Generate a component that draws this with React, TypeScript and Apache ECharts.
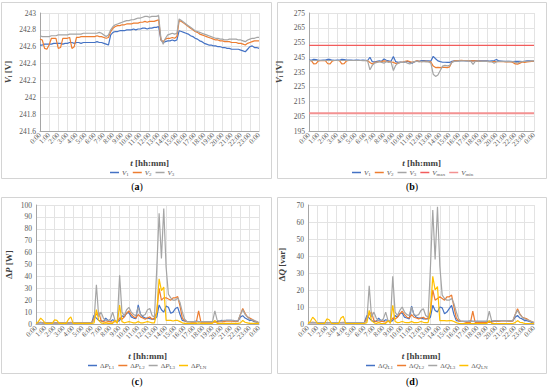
import React, { useEffect, useRef } from "react";
import * as echarts from "echarts";

// time step between samples, hours
const STEP_H = 0.25;
const HOURS = ["0", "1", "2", "3", "4", "5", "6", "7", "8", "9", "10", "11", "12",
  "13", "14", "15", "16", "17", "18", "19", "20", "21", "22", "23", "24"];
const X_TICK_LABELS = [
  "0:00", "1:00", "2:00", "3:00", "4:00", "5:00", "6:00", "7:00", "8:00", "9:00", "10:00", "11:00",
  "12:00", "13:00", "14:00", "15:00", "16:00", "17:00", "18:00", "19:00", "20:00", "21:00", "22:00", "23:00", "0:00",
];

// (a) voltages [V]
const A_V1 = [
  242.62, 242.62, 242.63, 242.63, 242.63, 242.63, 242.64, 242.64, 242.64, 242.64, 242.63, 242.64,
  242.64, 242.65, 242.65, 242.64, 242.65, 242.65, 242.64, 242.65, 242.65, 242.65, 242.65, 242.65,
  242.65, 242.66, 242.65, 242.65, 242.64, 242.63, 242.62, 242.74, 242.77, 242.78, 242.78, 242.79,
  242.79, 242.79, 242.80, 242.80, 242.80, 242.81, 242.80, 242.81, 242.81, 242.82, 242.82, 242.81,
  242.82, 242.82, 242.83, 242.83, 242.84, 242.68, 242.65, 242.66, 242.67, 242.67, 242.68, 242.67,
  242.68, 242.79, 242.78, 242.77, 242.76, 242.75, 242.73, 242.72, 242.70, 242.69, 242.67, 242.66,
  242.64, 242.63, 242.62, 242.62, 242.61, 242.61, 242.60, 242.60, 242.59, 242.59, 242.58, 242.58,
  242.57, 242.57, 242.57, 242.57, 242.56, 242.55, 242.54, 242.57, 242.60, 242.61, 242.59, 242.59,
  242.58,
];
const A_V2 = [
  242.69, 242.68, 242.58, 242.57, 242.62, 242.70, 242.70, 242.70, 242.58, 242.59, 242.70, 242.70,
  242.70, 242.71, 242.58, 242.60, 242.71, 242.71, 242.72, 242.72, 242.72, 242.72, 242.72, 242.72,
  242.72, 242.73, 242.72, 242.72, 242.71, 242.70, 242.71, 242.78, 242.82, 242.84, 242.85, 242.85,
  242.86, 242.86, 242.87, 242.87, 242.87, 242.88, 242.88, 242.88, 242.89, 242.89, 242.90, 242.89,
  242.90, 242.90, 242.90, 242.91, 242.92, 242.68, 242.66, 242.69, 242.70, 242.70, 242.71, 242.70,
  242.72, 242.91, 242.90, 242.88, 242.86, 242.84, 242.82, 242.80, 242.78, 242.77, 242.75, 242.74,
  242.73, 242.72, 242.71, 242.70, 242.69, 242.68, 242.68, 242.67, 242.67, 242.66, 242.66, 242.66,
  242.65, 242.65, 242.65, 242.64, 242.64, 242.63, 242.62, 242.64, 242.65, 242.66, 242.67, 242.67,
  242.67,
];
const A_V3 = [
  242.73, 242.72, 242.72, 242.72, 242.72, 242.73, 242.73, 242.73, 242.74, 242.74, 242.74, 242.74,
  242.74, 242.75, 242.75, 242.75, 242.75, 242.75, 242.75, 242.76, 242.76, 242.76, 242.76, 242.76,
  242.76, 242.76, 242.77, 242.76, 242.74, 242.72, 242.74, 242.80, 242.84, 242.86, 242.87, 242.88,
  242.89, 242.90, 242.91, 242.91, 242.92, 242.92, 242.93, 242.94, 242.94, 242.95, 242.96, 242.96,
  242.95, 242.96, 242.96, 242.96, 242.97, 242.70, 242.63, 242.70, 242.74, 242.75, 242.76, 242.75,
  242.76, 242.93, 242.91, 242.89, 242.87, 242.85, 242.83, 242.81, 242.79, 242.78, 242.77, 242.76,
  242.75, 242.74, 242.73, 242.72, 242.71, 242.70, 242.70, 242.69, 242.69, 242.68, 242.68, 242.69,
  242.69, 242.69, 242.69, 242.68, 242.68, 242.67, 242.66, 242.68, 242.69, 242.70, 242.70, 242.71,
  242.71,
];

// (b) voltages [V]
const B_V1 = [
  243.0, 243.0, 243.6, 243.4, 242.9, 242.9, 243.0, 243.1, 243.6, 243.5, 243.0, 242.9,
  243.0, 243.0, 243.6, 243.4, 243.0, 243.0, 243.0, 242.9, 243.0, 243.0, 242.9, 243.0,
  242.9, 242.8, 245.0, 242.0, 241.8, 242.2, 242.5, 242.3, 243.8, 243.0, 242.5, 242.3,
  245.5, 242.0, 241.5, 241.8, 241.5, 241.8, 242.3, 241.6, 240.9, 241.9, 242.5, 242.2,
  242.8, 242.7, 242.6, 242.5, 242.4, 245.6, 244.0, 242.5, 242.0, 241.6, 241.6, 241.5,
  241.5, 242.3, 242.5, 242.6, 242.6, 242.7, 242.7, 242.6, 242.6, 242.5, 242.6, 242.6,
  242.5, 242.6, 242.5, 242.5, 242.5, 242.4, 242.6, 242.8, 243.5, 242.5, 242.4, 242.3,
  242.3, 242.2, 242.2, 242.1, 242.3, 242.2, 242.3, 242.1, 242.3, 242.5, 242.6, 242.4,
  242.4,
];
const B_V2 = [
  242.8, 242.7, 240.5, 240.6, 242.6, 242.7, 242.8, 242.7, 240.6, 240.5, 242.6, 242.8,
  242.8, 242.7, 240.5, 240.7, 242.6, 242.8, 242.8, 242.8, 242.8, 242.8, 242.8, 242.8,
  242.8, 242.7, 241.5, 240.5, 241.5, 241.8, 242.0, 242.2, 242.5, 242.3, 242.1, 241.8,
  241.5, 240.8, 241.0, 241.5, 241.8, 242.3, 242.6, 242.0, 241.5, 242.0, 242.5, 242.3,
  242.0, 242.2, 242.3, 242.0, 241.8, 239.0, 238.0, 238.2, 238.0, 238.1, 238.2, 238.0,
  238.5, 241.8, 242.5, 242.7, 242.8, 242.9, 242.8, 242.8, 242.7, 242.6, 242.5, 242.5,
  242.4, 242.3, 242.3, 242.2, 242.2, 242.1, 242.0, 242.0, 242.1, 242.0, 242.1, 242.0,
  241.8, 241.9, 242.0, 241.5, 240.5, 240.3, 241.0, 241.8, 241.5, 241.8, 242.0, 242.2,
  242.3,
];
const B_V3 = [
  242.7, 242.7, 242.8, 242.8, 242.8, 242.8, 242.8, 242.8, 242.8, 242.8, 242.8, 242.8,
  242.8, 242.8, 242.8, 242.8, 242.8, 242.8, 242.8, 242.8, 242.8, 242.8, 242.8, 242.7,
  242.7, 242.6, 236.5, 239.5, 241.0, 241.5, 242.0, 241.5, 241.0, 242.0, 241.5, 241.8,
  236.0, 239.5, 241.0, 241.5, 241.5, 242.0, 241.0, 240.5, 241.5, 242.0, 242.3, 241.8,
  242.2, 242.0, 241.8, 242.0, 241.0, 233.5, 232.0, 233.0, 236.0, 239.0, 239.5, 239.2,
  239.5, 241.5, 242.2, 242.4, 242.5, 242.5, 242.6, 242.6, 242.5, 242.4, 240.2, 242.3,
  242.4, 242.3, 242.2, 242.3, 242.2, 242.1, 242.0, 241.0, 242.0, 242.2, 242.3, 242.2,
  242.1, 242.2, 242.0, 242.0, 241.5, 241.2, 241.8, 242.0, 242.2, 242.3, 242.3, 242.5,
  242.6,
];
const V_MAX = 253;
const V_MIN = 207;

// (c) active power losses [W]
const C_L1 = [
  1.0, 1.0, 1.2, 1.0, 1.0, 1.0, 1.0, 1.0, 1.0, 1.0, 1.0, 1.0,
  1.0, 1.0, 1.0, 1.0, 1.0, 1.0, 1.0, 1.0, 1.0, 1.0, 1.0, 1.0,
  1.2, 7.5, 5.0, 3.0, 2.5, 2.0, 5.0, 3.0, 2.0, 3.5, 2.5, 2.0,
  3.0, 7.0, 6.0, 9.0, 9.5, 6.0, 5.0, 4.5, 16.0, 8.0, 6.0, 5.0,
  5.0, 4.5, 4.0, 4.0, 6.0, 16.0, 12.0, 10.0, 15.0, 14.0, 9.0, 10.0,
  13.0, 14.0, 8.0, 3.0, 2.5, 2.0, 2.0, 2.0, 2.0, 2.5, 2.0, 2.0,
  2.0, 2.0, 2.0, 2.0, 2.0, 2.0, 2.0, 2.5, 3.0, 2.5, 3.0, 3.0,
  3.0, 2.5, 2.5, 2.5, 6.0, 7.0, 5.0, 4.0, 3.0, 3.0, 2.0, 1.5,
  1.0,
];
const C_L2 = [
  1.0, 1.0, 1.5, 1.0, 1.0, 1.0, 1.0, 1.0, 1.0, 1.0, 1.0, 1.0,
  1.0, 1.0, 1.0, 1.5, 1.0, 1.0, 1.0, 1.0, 1.0, 1.0, 1.0, 1.0,
  1.0, 5.0, 8.0, 10.0, 3.0, 2.0, 1.5, 2.0, 2.0, 1.5, 2.0, 2.0,
  5.0, 4.0, 6.0, 9.0, 11.0, 8.0, 6.0, 5.0, 8.0, 6.0, 5.0, 4.0,
  5.0, 6.0, 4.0, 5.0, 10.0, 30.0, 20.0, 22.0, 22.0, 21.0, 20.0, 22.0,
  22.0, 23.0, 15.0, 5.0, 3.0, 2.0, 2.0, 1.5, 1.5, 1.5, 11.0, 1.5,
  1.5, 1.5, 1.5, 1.5, 1.5, 1.5, 1.5, 2.0, 2.0, 2.0, 2.5, 2.5,
  2.5, 2.5, 2.0, 2.5, 8.0, 13.0, 9.0, 6.0, 5.0, 4.0, 2.5, 2.0,
  1.0,
];
const C_L3 = [
  1.0, 1.0, 1.5, 1.0, 1.0, 1.0, 1.0, 1.0, 1.0, 1.0, 1.0, 1.0,
  1.0, 1.0, 1.0, 1.0, 1.0, 1.0, 1.0, 1.0, 1.0, 1.0, 1.0, 1.0,
  1.0, 3.0, 33.0, 6.0, 10.0, 5.0, 3.0, 3.0, 4.0, 10.0, 3.0, 2.0,
  41.0, 10.0, 7.0, 12.0, 14.0, 10.0, 8.0, 7.0, 14.0, 8.0, 7.0, 8.0,
  12.0, 13.0, 7.0, 6.0, 47.0, 93.0, 55.0, 97.0, 48.0, 25.0, 22.0, 20.0,
  20.0, 22.0, 18.0, 10.0, 4.0, 2.0, 2.0, 2.0, 2.0, 2.0, 2.0, 2.0,
  2.0, 2.0, 2.0, 2.0, 2.0, 11.0, 3.0, 2.5, 2.5, 3.0, 3.0, 3.0,
  3.0, 3.0, 2.5, 3.0, 8.0, 12.0, 8.0, 6.0, 4.0, 3.5, 3.0, 2.0,
  1.0,
];
const C_LN = [
  0.5, 2.0, 5.0, 3.0, 0.5, 0.5, 0.5, 0.5, 3.5, 3.0, 0.5, 0.5,
  0.5, 0.5, 4.0, 6.0, 0.5, 0.5, 0.5, 0.5, 0.5, 0.5, 0.5, 0.5,
  0.5, 1.0, 12.0, 3.0, 1.0, 0.5, 1.0, 0.5, 0.5, 0.5, 3.0, 0.5,
  16.0, 2.0, 1.0, 1.5, 2.0, 1.5, 1.0, 1.0, 2.0, 1.0, 1.0, 1.5,
  2.0, 1.5, 1.0, 1.0, 10.0, 38.0, 28.0, 31.0, 3.0, 3.0, 3.0, 2.5,
  3.0, 3.0, 2.0, 1.0, 0.5, 0.5, 0.5, 0.5, 0.5, 0.5, 1.0, 0.5,
  0.5, 0.5, 0.5, 0.5, 0.5, 3.0, 0.5, 0.5, 0.5, 0.5, 0.5, 0.5,
  0.5, 0.5, 0.5, 0.5, 1.0, 3.0, 1.5, 1.0, 0.5, 0.5, 0.5, 0.5,
  0.5,
];

// (d) reactive power losses [var]
const D_L1 = [
  0.8, 0.8, 0.8, 0.8, 0.8, 0.8, 0.8, 0.8, 0.8, 0.8, 0.8, 0.8,
  0.8, 0.8, 0.8, 0.8, 0.8, 0.8, 0.8, 0.8, 0.8, 0.8, 0.8, 0.8,
  1.0, 5.0, 3.5, 2.0, 1.5, 1.5, 3.5, 2.0, 1.5, 2.5, 2.0, 1.5,
  2.0, 5.0, 4.0, 6.0, 6.5, 4.0, 3.5, 3.0, 10.5, 5.5, 4.0, 3.5,
  3.5, 3.0, 3.0, 3.0, 4.0, 11.0, 8.0, 7.0, 10.0, 9.5, 6.0, 7.0,
  9.0, 11.0, 5.5, 2.0, 1.8, 1.5, 1.5, 1.5, 1.5, 1.8, 1.5, 1.5,
  1.5, 1.5, 1.5, 1.5, 1.5, 1.5, 1.5, 1.8, 2.0, 1.8, 2.0, 2.0,
  2.0, 1.8, 1.8, 1.8, 4.0, 5.0, 3.5, 3.0, 2.0, 2.0, 1.5, 1.0,
  0.8,
];
const D_L2 = [
  0.8, 0.8, 1.0, 0.8, 0.8, 0.8, 0.8, 0.8, 0.8, 0.8, 0.8, 0.8,
  0.8, 0.8, 0.8, 1.0, 0.8, 0.8, 0.8, 0.8, 0.8, 0.8, 0.8, 0.8,
  0.8, 3.5, 5.5, 7.0, 2.0, 1.5, 1.0, 1.5, 1.5, 1.0, 1.5, 1.5,
  3.5, 3.0, 4.0, 6.0, 7.5, 5.5, 4.0, 3.5, 5.5, 4.0, 3.5, 3.0,
  3.5, 4.0, 3.0, 3.5, 7.0, 20.0, 14.0, 15.0, 16.0, 15.0, 14.0, 16.0,
  16.0, 17.0, 10.0, 3.5, 2.0, 1.5, 1.5, 1.0, 1.0, 1.0, 7.5, 1.0,
  1.0, 1.0, 1.0, 1.0, 1.0, 1.0, 1.0, 1.5, 1.5, 1.5, 1.8, 1.8,
  1.8, 1.8, 1.5, 1.8, 5.5, 9.0, 6.0, 4.0, 3.5, 3.0, 2.0, 1.5,
  0.8,
];
const D_L3 = [
  0.8, 0.8, 1.0, 0.8, 0.8, 0.8, 0.8, 0.8, 0.8, 0.8, 0.8, 0.8,
  0.8, 0.8, 0.8, 0.8, 0.8, 0.8, 0.8, 0.8, 0.8, 0.8, 0.8, 0.8,
  0.8, 2.0, 22.5, 4.0, 7.0, 3.5, 2.0, 2.0, 3.0, 7.0, 2.0, 1.5,
  28.0, 7.0, 5.0, 8.0, 10.0, 7.0, 5.5, 5.0, 10.0, 5.5, 5.0, 5.5,
  8.0, 9.0, 5.0, 4.0, 33.0, 67.0, 38.0, 69.0, 34.0, 17.0, 15.0, 14.0,
  14.0, 15.0, 12.0, 7.0, 3.0, 1.5, 1.5, 1.5, 1.5, 1.5, 1.5, 1.5,
  1.5, 1.5, 1.5, 1.5, 1.5, 7.5, 2.0, 1.8, 1.8, 2.0, 2.0, 2.0,
  2.0, 2.0, 1.8, 2.0, 5.5, 8.0, 5.5, 4.0, 3.0, 2.5, 2.0, 1.5,
  0.8,
];
const D_LN = [
  0.3, 1.5, 4.0, 2.5, 0.3, 0.3, 0.3, 0.3, 3.0, 2.5, 0.3, 0.3,
  0.3, 0.3, 3.5, 4.5, 0.3, 0.3, 0.3, 0.3, 0.3, 0.3, 0.3, 0.3,
  0.3, 0.8, 8.0, 2.0, 0.8, 0.3, 0.8, 0.3, 0.3, 0.3, 2.0, 0.3,
  11.0, 1.5, 0.8, 1.0, 1.5, 1.0, 0.8, 0.8, 1.5, 0.8, 0.8, 1.0,
  1.5, 1.0, 0.8, 0.8, 7.0, 28.0, 20.0, 22.0, 2.0, 2.0, 2.0, 1.8,
  2.0, 2.0, 1.5, 0.8, 0.3, 0.3, 0.3, 0.3, 0.3, 0.3, 0.3, 0.3,
  0.3, 0.3, 0.3, 0.3, 0.3, 2.0, 0.3, 0.3, 0.3, 0.3, 0.3, 0.3,
  0.3, 0.3, 0.3, 0.3, 0.8, 2.0, 1.0, 0.8, 0.3, 0.3, 0.3, 0.3,
  0.3,
];

const BLUE = "#4472C4";
const ORANGE = "#ED7D31";
const GRAY = "#A5A5A5";
const YELLOW = "#FFC000";
const RED_MAX = "#F25C5C";
const RED_MIN = "#F39191";

const FONT = "Liberation Serif";
const LABEL_COLOR = "#595959";

const LEGEND_TEXT: Record<string, string> = {
  aV1: "{i|V}{s|1}", aV2: "{i|V}{s|2}", aV3: "{i|V}{s|3}",
  bV1: "{i|V}{s|1}", bV2: "{i|V}{s|2}", bV3: "{i|V}{s|3}",
  bVmax: "{i|V}{s|max}", bVmin: "{i|V}{s|min}",
  cL1: "{n|Δ}{i|P}{s|L1}", cL2: "{n|Δ}{i|P}{s|L2}", cL3: "{n|Δ}{i|P}{s|L3}", cLN: "{n|Δ}{i|P}{s|LN}",
  dL1: "{n|Δ}{i|Q}{s|L1}", dL2: "{n|Δ}{i|Q}{s|L2}", dL3: "{n|Δ}{i|Q}{s|L3}", dLN: "{n|Δ}{i|Q}{s|LN}",
};

const toPts = (vals: number[]) => vals.map((v, i) => [i * STEP_H, v]);

export default function App() {
  const ref = useRef<HTMLDivElement>(null);
  useEffect(() => {
    if (!ref.current) return;
    const chart = echarts.init(ref.current, undefined, { renderer: "svg" });

    const grids = [
      { left: 40, top: 13, width: 219, height: 118 },
      { left: 309, top: 13, width: 225, height: 118 },
      { left: 36, top: 205, width: 223, height: 119 },
      { left: 308, top: 205, width: 226, height: 119 },
    ];

    const richSmall = {
      i: { fontFamily: FONT, fontStyle: "italic", fontSize: 7, color: LABEL_COLOR },
      n: { fontFamily: FONT, fontSize: 7, color: LABEL_COLOR },
      s: { fontFamily: FONT, fontSize: 5, color: LABEL_COLOR, padding: [4, 0, 0, 0] },
    };
    const richTitle = {
      i: { fontFamily: FONT, fontStyle: "italic", fontWeight: "bold", fontSize: 9, color: "#404040" },
      b: { fontFamily: FONT, fontWeight: "bold", fontSize: 9, color: "#404040" },
      s: { fontFamily: FONT, fontWeight: "bold", fontSize: 6, color: "#404040", padding: [5, 0, 0, 0] },
    };

    // visible hour axes (category, every label shown) + hidden value axes carrying the data
    const catAxes = grids.map((_, gi) => ({
      type: "category",
      gridIndex: gi,
      data: HOURS,
      boundaryGap: false,
      name: "{i|t}{b| [hh:mm]}",
      nameLocation: "middle",
      nameGap: 27,
      nameTextStyle: { rich: richTitle },
      axisLine: { show: true, lineStyle: { color: "#a6a6a6", width: 1 } },
      axisTick: { show: false },
      splitLine: { show: true, interval: 0, lineStyle: { color: "#e3e3e3", width: 1 } },
      axisLabel: {
        interval: 0,
        rotate: 45,
        fontSize: 7,
        fontFamily: FONT,
        color: LABEL_COLOR,
        margin: 3,
        formatter: (_v: string, idx: number) => X_TICK_LABELS[idx],
      },
    }));
    const valAxes = grids.map((_, gi) => ({
      type: "value",
      gridIndex: gi,
      min: 0,
      max: 24,
      interval: 1,
      show: false,
    }));

    const yBase = {
      type: "value",
      nameLocation: "middle",
      nameRotate: 90,
      nameTextStyle: { rich: richTitle },
      axisLine: { show: true, lineStyle: { color: "#a6a6a6", width: 1 } },
      axisTick: { show: false },
      splitLine: { show: true, lineStyle: { color: "#e3e3e3", width: 1 } },
      axisLabel: { fontSize: 7.5, fontFamily: FONT, color: LABEL_COLOR, margin: 4, showMinLabel: true, showMaxLabel: true },
    };
    const yAxes = [
      {
        ...yBase, gridIndex: 0, min: 241.6, max: 243, interval: 0.2, nameGap: 27,
        name: "{i|V}{s|i}{b| [V]}",
        axisLabel: { ...yBase.axisLabel, formatter: (v: number) => String(Number(v.toFixed(1))) },
      },
      { ...yBase, gridIndex: 1, min: 195, max: 275, interval: 10, nameGap: 25, name: "{i|V}{s|i}{b| [V]}" },
      { ...yBase, gridIndex: 2, min: 0, max: 100, interval: 10, nameGap: 23, name: "{b|Δ}{i|P}{b| [W]}" },
      { ...yBase, gridIndex: 3, min: 0, max: 70, interval: 10, nameGap: 22, name: "{b|Δ}{i|Q}{b| [var]}" },
    ];

    const line = (name: string, idx: number, data: number[][], color: string, width = 1.2) => ({
      name,
      type: "line",
      xAxisIndex: 4 + idx,
      yAxisIndex: idx,
      data,
      symbol: "none",
      showSymbol: false,
      lineStyle: { color, width },
      itemStyle: { color },
      emphasis: { disabled: true },
    });

    const series = [
      line("aV1", 0, toPts(A_V1), BLUE),
      line("aV2", 0, toPts(A_V2), ORANGE),
      line("aV3", 0, toPts(A_V3), GRAY),
      line("bV1", 1, toPts(B_V1), BLUE),
      line("bV2", 1, toPts(B_V2), ORANGE),
      line("bV3", 1, toPts(B_V3), GRAY),
      line("bVmax", 1, [[0, V_MAX], [24, V_MAX]], RED_MAX, 1.2),
      line("bVmin", 1, [[0, V_MIN], [24, V_MIN]], RED_MIN, 2),
      line("cL1", 2, toPts(C_L1), BLUE),
      line("cL2", 2, toPts(C_L2), ORANGE),
      line("cL3", 2, toPts(C_L3), GRAY),
      line("cLN", 2, toPts(C_LN), YELLOW),
      line("dL1", 3, toPts(D_L1), BLUE),
      line("dL2", 3, toPts(D_L2), ORANGE),
      line("dL3", 3, toPts(D_L3), GRAY),
      line("dLN", 3, toPts(D_LN), YELLOW),
    ];

    const legendBase = {
      orient: "horizontal",
      icon: "rect",
      itemWidth: 9,
      itemHeight: 1.5,
      itemGap: 4,
      padding: 0,
      selectedMode: false,
      formatter: (name: string) => LEGEND_TEXT[name],
      textStyle: { fontFamily: FONT, fontSize: 7, color: LABEL_COLOR, rich: richSmall, padding: [0, 0, 0, -2] },
    };
    const legends = [
      { ...legendBase, left: 110, top: 169, data: ["aV1", "aV2", "aV3"] },
      { ...legendBase, left: 352, top: 169, data: ["bV1", "bV2", "bV3", "bVmax", "bVmin"] },
      { ...legendBase, left: 88, top: 362, data: ["cL1", "cL2", "cL3", "cLN"] },
      { ...legendBase, left: 366, top: 362, data: ["dL1", "dL2", "dL3", "dLN"] },
    ];

    const capRich = {
      p: { fontFamily: FONT, fontSize: 10, color: "#000" },
      b: { fontFamily: FONT, fontSize: 10, fontWeight: "bold", color: "#000" },
    };
    const box = (x: number, y: number, w: number, h: number) => ({
      type: "rect",
      shape: { x, y, width: w, height: h },
      style: { fill: "none", stroke: "#d4d4d4", lineWidth: 1 },
      silent: true,
      z: -1,
    });
    const caption = (x: number, y: number, letter: string) => ({
      type: "text",
      x,
      y,
      style: {
        text: `{p|(}{b|${letter}}{p|)}`,
        rich: capRich,
        align: "center",
        verticalAlign: "middle",
      },
      silent: true,
    });

    chart.setOption({
      animation: false,
      backgroundColor: "#ffffff",
      grid: grids,
      xAxis: [...catAxes, ...valAxes],
      yAxis: yAxes,
      legend: legends,
      series,
      graphic: [
        box(1.5, 2.5, 270, 176),
        box(277.5, 2.5, 269, 176),
        box(1.5, 197.5, 270, 176),
        box(277.5, 197.5, 269, 176),
        caption(137, 186, "a"),
        caption(412, 186, "b"),
        caption(137, 381, "c"),
        caption(412, 381, "d"),
      ],
    });
    return () => chart.dispose();
  }, []);

  return (
    <div
      ref={ref}
      style={{ position: "absolute", left: 0, top: 0, width: 550, height: 392, background: "#fff" }}
    />
  );
}
